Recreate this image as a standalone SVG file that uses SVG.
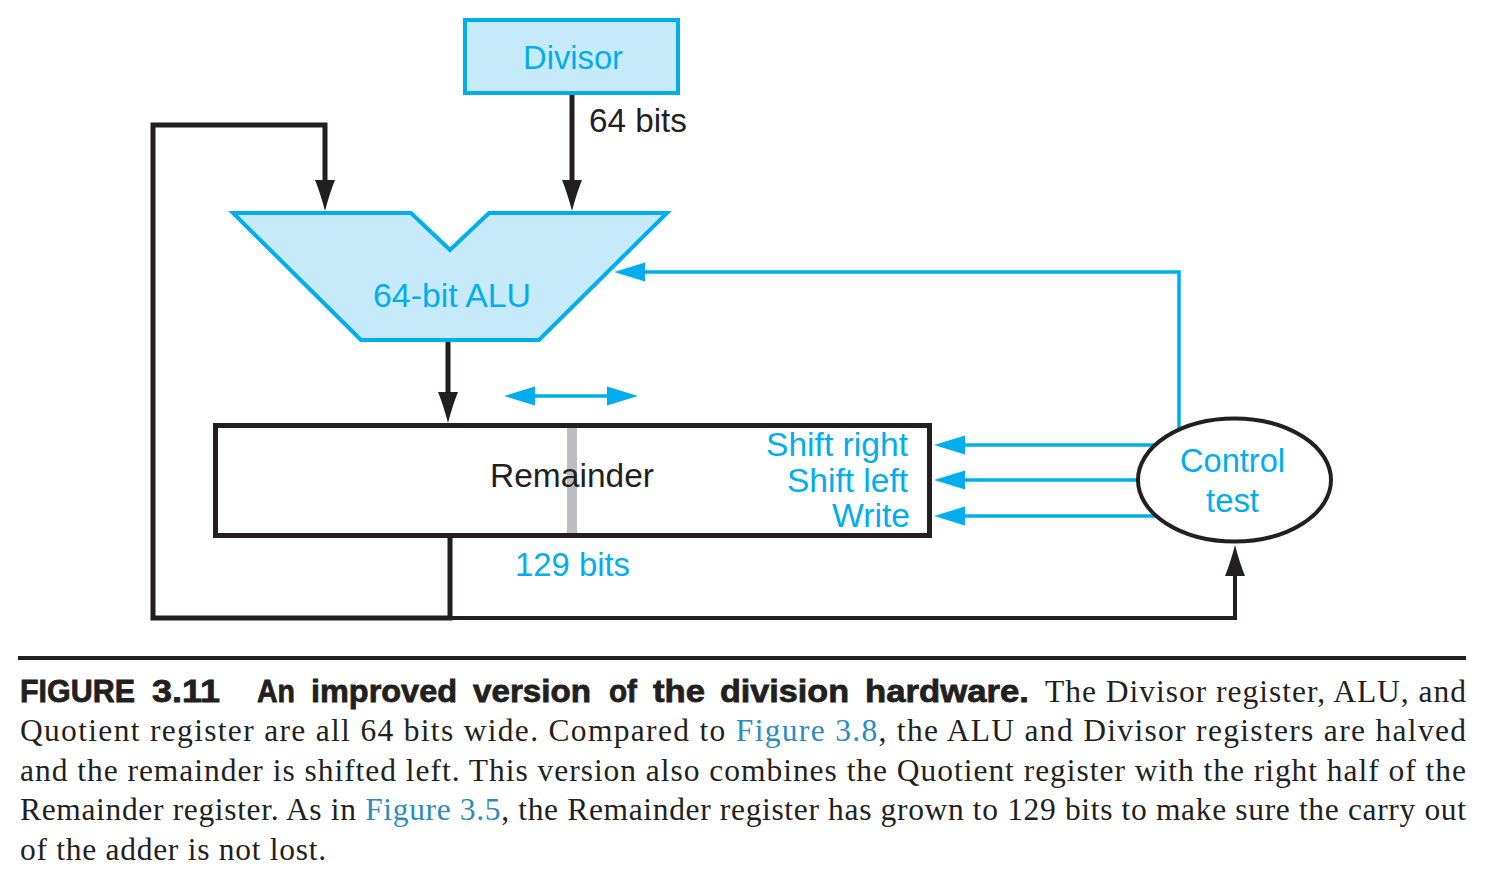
<svg xmlns="http://www.w3.org/2000/svg" width="1486" height="886" viewBox="0 0 1486 886">
<defs>
<style>
.lbl{font-family:"Liberation Sans",Arial,sans-serif;font-size:34px}
.cy{fill:#00AEEF}
.bk{fill:#231F20}
.wk{fill:none;stroke:#231F20;stroke-width:5}
.wk4{fill:none;stroke:#231F20;stroke-width:4}
.cl{fill:none;stroke:#00AEEF;stroke-width:3.5}
.cap{font-family:"Liberation Serif","Times New Roman",serif;font-size:31.5px;fill:#231F20}
.capb{font-family:"Liberation Sans",Arial,sans-serif;font-size:32px;font-weight:bold;fill:#231F20;stroke:#231F20;stroke-width:0.8}
.lnk{fill:#2A8CBF}
</style>
<marker id="ab" markerUnits="userSpaceOnUse" markerWidth="34" markerHeight="24" viewBox="0 -12 34 24" refX="0" refY="0" orient="auto">
<path d="M0,-10 Q12,-5 31,0 Q12,5 0,10 Z" fill="#231F20"/>
</marker>
<marker id="ac" markerUnits="userSpaceOnUse" markerWidth="34" markerHeight="24" viewBox="0 -12 34 24" refX="0" refY="0" orient="auto">
<path d="M0,-9.5 L31,0 L0,9.5 Z" fill="#00AEEF"/>
</marker>
</defs>
<rect width="1486" height="886" fill="#FFFFFF"/>

<g id="connectors">
<line class="wk" x1="572" y1="95" x2="572" y2="180" marker-end="url(#ab)"/>
<path class="wk" d="M450,538 V618 H153 V125 H325 V180" marker-end="url(#ab)"/>
<line class="wk" x1="448" y1="340" x2="448" y2="392" marker-end="url(#ab)"/>
<path class="wk4" d="M450,618 H1235 V576" marker-end="url(#ab)"/>
<path class="cl" d="M1179,440 V272 H645" marker-end="url(#ac)"/>
<line class="cl" x1="1200" y1="445" x2="965" y2="445" marker-end="url(#ac)"/>
<line class="cl" x1="1200" y1="480" x2="965" y2="480" marker-end="url(#ac)"/>
<line class="cl" x1="1200" y1="516" x2="965" y2="516" marker-end="url(#ac)"/>
<line class="cl" x1="535" y1="396" x2="607" y2="396" marker-end="url(#ac)"/>
<path d="M535,386.5 L504,396 L535,405.5 Z" fill="#00AEEF"/>
</g>

<g id="divisor">
<rect x="465" y="20" width="213" height="73" fill="#C7EAFB" stroke="#00AEEF" stroke-width="4"/>
<text class="lbl cy" x="523" y="69" textLength="100" lengthAdjust="spacingAndGlyphs">Divisor</text>
</g>
<text id="label-64" class="lbl bk" x="589" y="132" textLength="98" lengthAdjust="spacingAndGlyphs">64 bits</text>

<g id="alu">
<polygon points="233,213 411,213 450,250 489,213 667,213 539,340 361,340" fill="#C7EAFB" stroke="#00AEEF" stroke-width="4"/>
<text class="lbl cy" x="373" y="307" textLength="158" lengthAdjust="spacingAndGlyphs">64-bit ALU</text>
</g>

<g id="remainder">
<rect x="215.5" y="425.5" width="714" height="110" fill="#FFFFFF" stroke="#231F20" stroke-width="5"/>
<rect x="567" y="428" width="10" height="105" fill="#BCBEC0"/>
<text class="lbl bk" x="490" y="487" textLength="164" lengthAdjust="spacingAndGlyphs">Remainder</text>
<text class="lbl cy" x="766" y="456" textLength="142" lengthAdjust="spacingAndGlyphs">Shift right</text>
<text class="lbl cy" x="787" y="491.5" textLength="121" lengthAdjust="spacingAndGlyphs">Shift left</text>
<text class="lbl cy" x="832" y="527" textLength="78" lengthAdjust="spacingAndGlyphs">Write</text>
</g>
<text id="label-129" class="lbl cy" x="515" y="576" textLength="115" lengthAdjust="spacingAndGlyphs">129 bits</text>

<g id="control">
<ellipse cx="1234.5" cy="480" rx="96.5" ry="61.5" fill="#FFFFFF" stroke="#231F20" stroke-width="4"/>
<text class="lbl cy" x="1180" y="472" textLength="105" lengthAdjust="spacingAndGlyphs">Control</text>
<text class="lbl cy" x="1206" y="512" textLength="53" lengthAdjust="spacingAndGlyphs">test</text>
</g>

<g id="caption">
<rect x="18" y="656" width="1448" height="4" fill="#231F20"/>
<text class="capb" x="20" y="702" textLength="115" lengthAdjust="spacingAndGlyphs">FIGURE</text>
<text class="capb" x="152" y="702" textLength="68" lengthAdjust="spacingAndGlyphs">3.11</text>
<text class="capb" x="257" y="702" textLength="38" lengthAdjust="spacingAndGlyphs">An</text>
<text class="capb" x="311" y="702" textLength="146" lengthAdjust="spacingAndGlyphs">improved</text>
<text class="capb" x="473" y="702" textLength="118" lengthAdjust="spacingAndGlyphs">version</text>
<text class="capb" x="609" y="702" textLength="28" lengthAdjust="spacingAndGlyphs">of</text>
<text class="capb" x="653" y="702" textLength="52" lengthAdjust="spacingAndGlyphs">the</text>
<text class="capb" x="720" y="702" textLength="129" lengthAdjust="spacingAndGlyphs">division</text>
<text class="capb" x="865" y="702" textLength="164" lengthAdjust="spacingAndGlyphs">hardware.</text>
<text class="cap" x="1045" y="702" textLength="421" lengthAdjust="spacing">The Divisor register, ALU, and</text>
<text class="cap" x="20" y="741" textLength="1446" lengthAdjust="spacing">Quotient register are all 64 bits wide. Compared to <tspan class="lnk">Figure 3.8</tspan>, the ALU and Divisor registers are halved</text>
<text class="cap" x="20" y="780.5" textLength="1446" lengthAdjust="spacing">and the remainder is shifted left. This version also combines the Quotient register with the right half of the</text>
<text class="cap" x="20" y="820" textLength="1446" lengthAdjust="spacing">Remainder register. As in <tspan class="lnk">Figure 3.5</tspan>, the Remainder register has grown to 129 bits to make sure the carry out</text>
<text class="cap" x="20" y="860" textLength="306" lengthAdjust="spacing">of the adder is not lost.</text>
</g>
</svg>
